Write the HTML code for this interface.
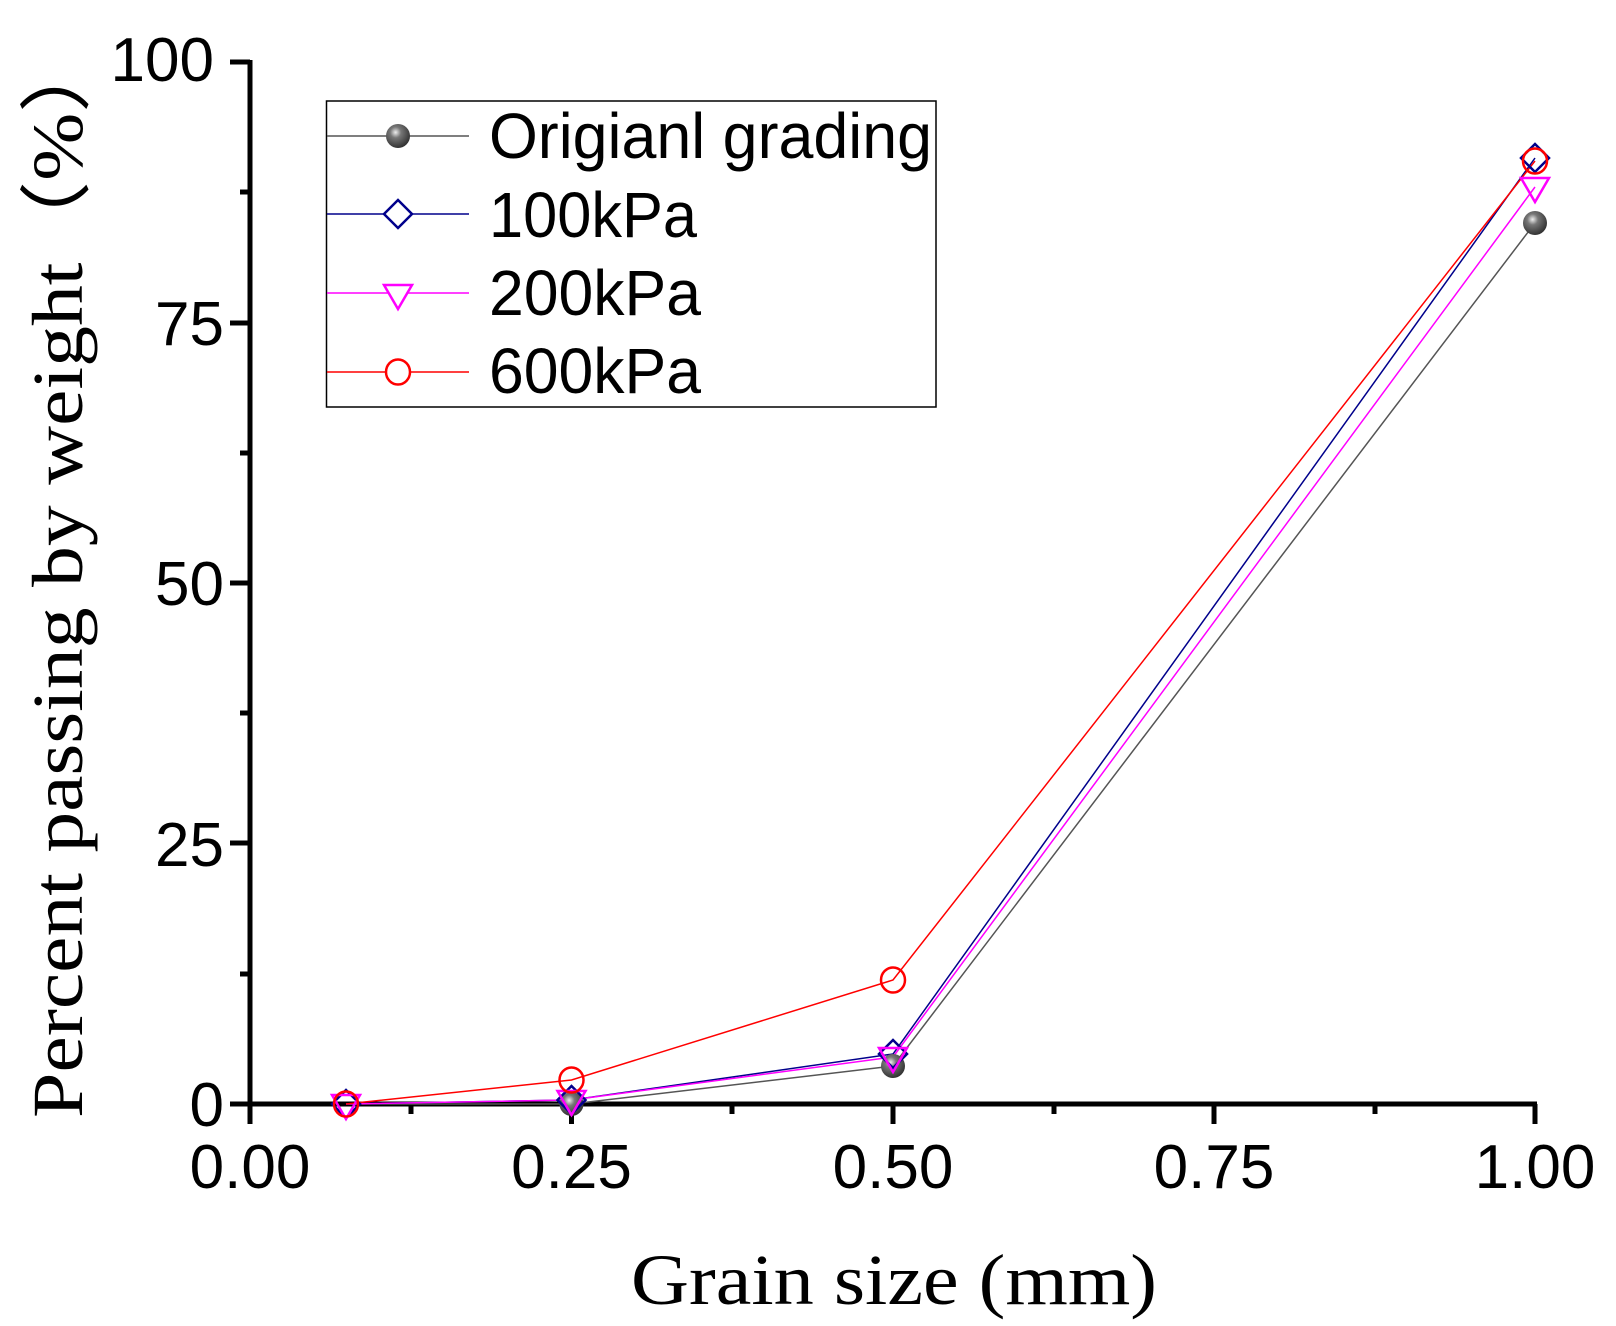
<!DOCTYPE html>
<html><head><meta charset="utf-8"><style>html,body{margin:0;padding:0;background:#fff}svg{display:block}</style></head>
<body>
<svg width="1616" height="1326" viewBox="0 0 1616 1326" xmlns="http://www.w3.org/2000/svg">
<defs>
<radialGradient id="ball" cx="0.4" cy="0.35" r="0.65">
<stop offset="0" stop-color="#eee"/><stop offset="0.35" stop-color="#777"/><stop offset="1" stop-color="#333"/>
</radialGradient>
</defs>
<g stroke="#000" stroke-width="5" fill="none">
<line x1="250" y1="60" x2="250" y2="1106"/>
<line x1="248" y1="1104" x2="1537" y2="1104"/>
<line x1="230" y1="62" x2="250" y2="62"/>
<line x1="230" y1="323" x2="250" y2="323"/>
<line x1="230" y1="583" x2="250" y2="583"/>
<line x1="230" y1="843" x2="250" y2="843"/>
<line x1="230" y1="1104" x2="250" y2="1104"/>
<line x1="240" y1="192" x2="250" y2="192"/>
<line x1="240" y1="453" x2="250" y2="453"/>
<line x1="240" y1="713" x2="250" y2="713"/>
<line x1="240" y1="974" x2="250" y2="974"/>
<line x1="250" y1="1104" x2="250" y2="1124"/>
<line x1="571.5" y1="1104" x2="571.5" y2="1124"/>
<line x1="893" y1="1104" x2="893" y2="1124"/>
<line x1="1214" y1="1104" x2="1214" y2="1124"/>
<line x1="1535" y1="1104" x2="1535" y2="1124"/>
<line x1="411" y1="1104" x2="411" y2="1114"/>
<line x1="732" y1="1104" x2="732" y2="1114"/>
<line x1="1054" y1="1104" x2="1054" y2="1114"/>
<line x1="1375" y1="1104" x2="1375" y2="1114"/>
</g>
<g font-family="Liberation Sans, Arial, sans-serif" font-size="62" fill="#000">
<text x="214" y="81" text-anchor="end">100</text>
<text x="224" y="345" text-anchor="end">75</text>
<text x="224" y="605" text-anchor="end">50</text>
<text x="224" y="866" text-anchor="end">25</text>
<text x="224" y="1126" text-anchor="end">0</text>
<text x="250" y="1188" text-anchor="middle">0.00</text>
<text x="571.5" y="1188" text-anchor="middle">0.25</text>
<text x="893" y="1188" text-anchor="middle">0.50</text>
<text x="1214" y="1188" text-anchor="middle">0.75</text>
<text x="1535" y="1188" text-anchor="middle">1.00</text>
</g>
<text x="631" y="1304" font-family="Liberation Serif, Times New Roman, serif" font-size="72" textLength="526" lengthAdjust="spacingAndGlyphs">Grain size (mm)</text>
<text transform="translate(82,1118) rotate(-90)" font-family="Liberation Serif, Times New Roman, serif" font-size="72" textLength="1087" lengthAdjust="spacingAndGlyphs">Percent passing by weight（%）</text>
<g fill="none" stroke-width="1.5">
<polyline stroke="#555" points="346,1104 571.5,1104 893,1066 1535,223"/>
<polyline stroke="#00008b" points="346,1104 571.5,1100 893,1054 1535,158"/>
<polyline stroke="#f0f" points="346,1104 571.5,1100 893,1057 1535,187"/>
<polyline stroke="#f00" points="346,1104 571.5,1080 893,980 1535,161"/>
</g>
<g>
<circle cx="571.5" cy="1104" r="12" fill="url(#ball)"/>
<circle cx="893" cy="1066" r="12" fill="url(#ball)"/>
<circle cx="1535" cy="223" r="12" fill="url(#ball)"/>
<g fill="none" stroke="#00008b" stroke-width="2.5">
<path d="M346,1090 l14,14 l-14,14 l-14,-14z"/>
<path d="M571.5,1086 l14,14 l-14,14 l-14,-14z"/>
<path d="M893,1040 l14,14 l-14,14 l-14,-14z"/>
<path d="M1535,144 l14,14 l-14,14 l-14,-14z"/>
</g>
<g fill="none" stroke="#f0f" stroke-width="2.5">
<path d="M332,1095 h28 l-14,24z"/>
<path d="M557.5,1091 h28 l-14,24z"/>
<path d="M879,1048 h28 l-14,24z"/>
<path d="M1521,178 h28 l-14,24z"/>
</g>
<g fill="none" stroke="#f00" stroke-width="2.5">
<ellipse cx="346" cy="1104" rx="12" ry="12.5"/>
<ellipse cx="571.5" cy="1080" rx="12" ry="12.5"/>
<ellipse cx="893" cy="980" rx="12" ry="12.5"/>
<ellipse cx="1535" cy="161" rx="12" ry="12.5"/>
</g>
</g>
<rect x="326.5" y="101" width="609.5" height="306" fill="none" stroke="#000" stroke-width="1.5"/>
<g stroke-width="1.5">
<line x1="327" y1="136" x2="469" y2="136" stroke="#555"/>
<line x1="327" y1="214" x2="469" y2="214" stroke="#00008b"/>
<line x1="327" y1="293" x2="469" y2="293" stroke="#f0f"/>
<line x1="327" y1="372" x2="469" y2="372" stroke="#f00"/>
</g>
<circle cx="398" cy="136" r="12" fill="url(#ball)"/>
<path d="M398,200 l14,14 l-14,14 l-14,-14z" fill="#fff" stroke="#00008b" stroke-width="2.5"/>
<path d="M384,285 h28 l-14,24z" fill="#fff" stroke="#f0f" stroke-width="2.5"/>
<ellipse cx="398" cy="372" rx="12" ry="12.5" fill="#fff" stroke="#f00" stroke-width="2.5"/>
<g font-family="Liberation Sans, Arial, sans-serif" font-size="64" fill="#000">
<text x="489" y="158" textLength="443" lengthAdjust="spacingAndGlyphs">Origianl grading</text>
<text x="489" y="237" textLength="208" lengthAdjust="spacingAndGlyphs">100kPa</text>
<text x="489" y="315" textLength="212" lengthAdjust="spacingAndGlyphs">200kPa</text>
<text x="489" y="393" textLength="212" lengthAdjust="spacingAndGlyphs">600kPa</text>
</g>
</svg>
</body></html>
